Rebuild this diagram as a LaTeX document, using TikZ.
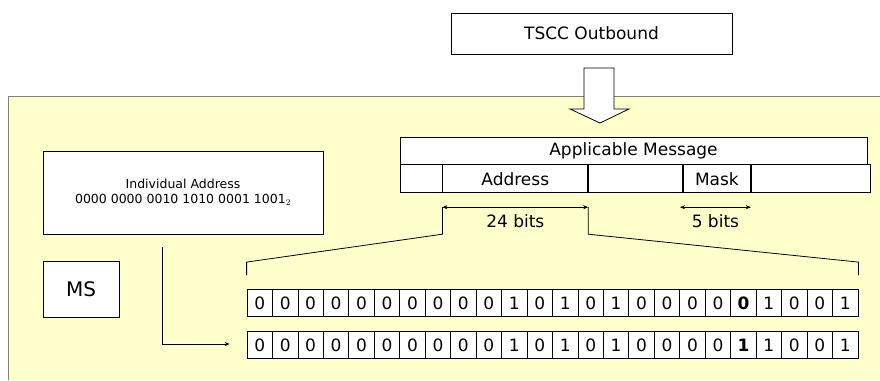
\documentclass[tikz,border=0pt]{standalone}
\usepackage{fontspec}
\setmainfont{DejaVu Sans}
\usepackage{tikz}
\usetikzlibrary{positioning,calc,arrows.meta}

\definecolor{paleyellow}{HTML}{FFFFCC}
\definecolor{framegray}{HTML}{808080}

\tikzset{
  box/.style={draw, fill=white, line width=0.8pt, inner sep=0pt},
  field/.style={box, minimum height=28pt, font=\fontsize{17}{17}\selectfont},
  bit/.style={box, minimum width=25.46pt, minimum height=27pt, font=\fontsize{17}{17}\selectfont},
  lbl/.style={font=\fontsize{17}{17}\selectfont},
}

\begin{document}
\begin{tikzpicture}[x=1pt, y=-1pt, >={Stealth[length=5pt,width=4pt]}]
    \useasboundingbox (0,0) rectangle (880,380);
    \fill[paleyellow] (8,96) rectangle (880,380);
    \draw[framegray, line width=1pt] (8,380) -- (8,96) -- (880,96);

    \node[box, lbl, minimum width=281pt, minimum height=41pt] (tscc) at (591.5,33.5) {TSCC Outbound};
    \draw[line width=0.8pt, fill=white] (584,68) -- (614,68) -- (614,109) -- (629,109) -- (600,123) -- (570,109) -- (584,109) -- cycle;

    % message fields
    \node[box, lbl, minimum width=467pt, minimum height=27pt] (msg) at (633.5,150.5) {Applicable Message};
    \node[field, minimum width=42pt, anchor=north west] (f1) at (msg.south west) {};
    \node[field, minimum width=145pt, right=0pt of f1] (addr) {Address};
    \node[field, minimum width=94pt, right=0pt of addr] (f3) {};
    \node[field, minimum width=67pt, right=0pt of f3] (mask) {Mask};
    \node[field, minimum width=119pt, right=0pt of mask] (f5) {};

    \coordinate (a24l) at ($(addr.south west)+(0,14)$);
    \coordinate (a24r) at ($(addr.south east)+(0,14)$);
    \coordinate (a5l) at ($(mask.south west)+(-3,14)$);
    \coordinate (a5r) at ($(mask.south east)+(0,14)$);
    \draw[<->] (a24l) -- (a24r) node[midway, below=4pt, lbl] (l24) {24 bits};
    \draw[<->] (a5l) -- (a5r) node[midway, below=4pt, lbl] (l5) {5 bits};

    % bit rows
    \foreach \b [count=\i] in {0,0,0,0,0,0,0,0,0,0,1,0,1,0,1,0,0,0,0,0,1,0,0,1}
        \node[bit] (u\i) at ({259.73+(\i-1)*25.458},303) {\ifnum\i=20\bfseries\fi\b};
    \foreach \b [count=\i] in {0,0,0,0,0,0,0,0,0,0,1,0,1,0,1,0,0,0,0,1,1,0,0,1}
        \node[bit] (v\i) at ({259.73+(\i-1)*25.458},345) {\ifnum\i=20\bfseries\fi\b};

    \draw[line width=0.8pt] ($(u1.north west)+(0,-14)$) -- ($(u1.north west)+(0,-27)$) -- ($(a24l)+(0,27)$) -- (a24l);
    \draw[line width=0.8pt] (a24r) -- ($(a24r)+(0,27)$) -- ($(u24.north east)+(0,-27)$) -- ($(u24.north east)+(0,-14)$);

    \node[box, minimum width=280pt, minimum height=83pt, align=center,
          font=\fontsize{12.5}{15}\selectfont] (ind) at (183,192.5)
          {Individual Address\\0000 0000 0010 1010 0001 1001$_2$};
    \node[box, minimum width=76pt, minimum height=56pt, font=\fontsize{20}{20}\selectfont] (ms) at (81,289) {MS};

    \coordinate (src) at ($(ind.south)+(-21,13)$);
    \coordinate (dst) at ($(v1.west)+(-17,-1)$);
    \draw[->, line width=0.8pt] (src) |- (dst);
\end{tikzpicture}
\end{document}
